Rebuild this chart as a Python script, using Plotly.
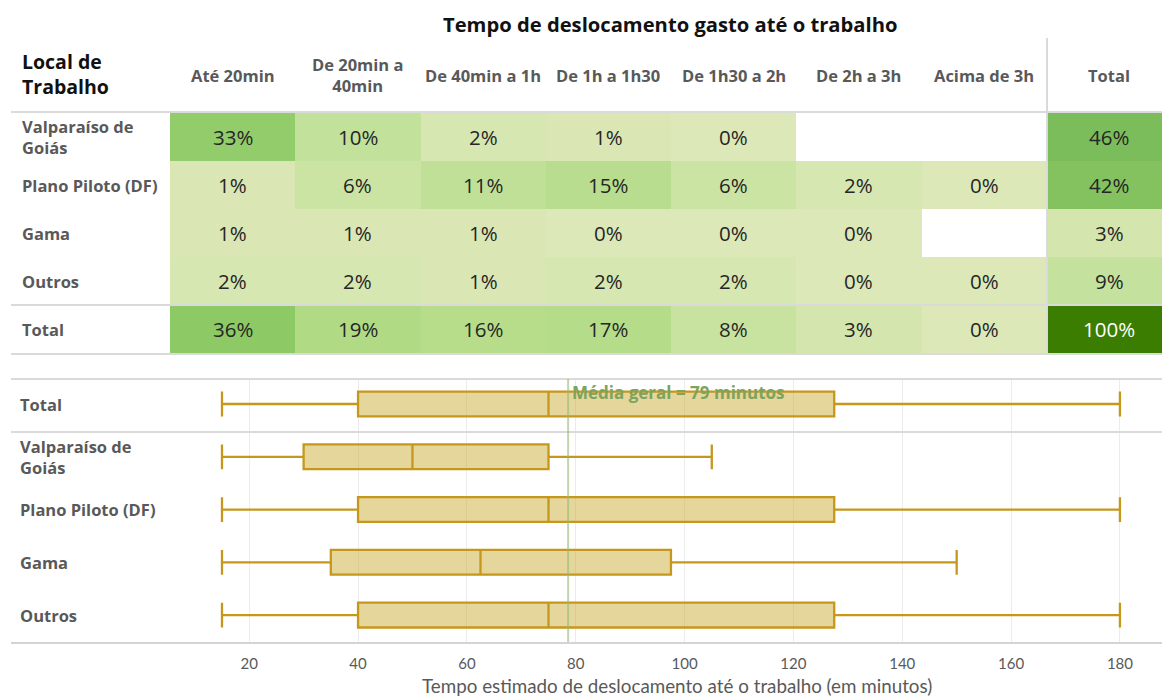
import plotly.graph_objects as go

W, H = 1162, 697

# ---------------- data ----------------
col_labels = ["Até 20min", "De 20min a<br>40min", "De 40min a 1h", "De 1h a 1h30",
              "De 1h30 a 2h", "De 2h a 3h", "Acima de 3h", "Total"]
row_labels = ["Valparaíso de<br>Goiás", "Plano Piloto (DF)", "Gama", "Outros", "Total"]

pct_valparaiso = [33, 10, 2, 1, 0, None, None, 46]
pct_plano = [1, 6, 11, 15, 6, 2, 0, 42]
pct_gama = [1, 1, 1, 0, 0, 0, None, 3]
pct_outros = [2, 2, 1, 2, 2, 0, 0, 9]
pct_total = [36, 19, 16, 17, 8, 3, 0, 100]

box_rows = ["Total", "Valparaíso de Goiás", "Plano Piloto (DF)", "Gama", "Outros"]
box_row_labels = ["Total", "Valparaíso de<br>Goiás", "Plano Piloto (DF)", "Gama", "Outros"]
lower = [15, 15, 15, 15, 15]
q1 = [40, 30, 40, 35, 40]
median = [75, 50, 75, 62.5, 75]
q3 = [127.5, 75, 127.5, 97.5, 127.5]
upper = [180, 105, 180, 150, 180]
mean_all = 78.6
x_ticks = [20, 40, 60, 80, 100, 120, 140, 160, 180]

title_text = "Tempo de deslocamento gasto até o trabalho"
corner_text = "Local de<br>Trabalho"
mean_text = "Média geral = 79 minutos"
x_title = "Tempo estimado de deslocamento até o trabalho (em minutos)"

# ---------------- helpers ----------------
def px(x):
    return x / W

def py(y):
    return 1 - y / H

FONT = "Open Sans"
AXFONT = "Lato"
GRAY = "#595959"

z = [pct_valparaiso, pct_plano, pct_gama, pct_outros, pct_total]
ncols = len(col_labels)
nrows = len(row_labels)

colorscale = [
    [0.0, "#dde8b8"], [0.03, "#d4e6ae"], [0.06, "#cbe4a4"], [0.10, "#c2e19a"],
    [0.17, "#b5dc89"], [0.20, "#afd983"], [0.35, "#8fca66"], [0.46, "#7cbd5b"],
    [1.0, "#3a7d00"],
]

fig = go.Figure()

fig.add_trace(go.Heatmap(
    z=z, x=list(range(ncols)), y=list(range(nrows)),
    colorscale=colorscale, zmin=0, zmax=100, showscale=False,
    hoverinfo="skip", xaxis="x", yaxis="y",
))

fig.add_trace(go.Box(
    y=box_rows, q1=q1, median=median, q3=q3, lowerfence=lower, upperfence=upper,
    orientation="h", boxpoints=False, width=0.47, whiskerwidth=1,
    fillcolor="rgba(198,166,38,0.46)",
    line=dict(color="rgb(197,152,28)", width=2.3),
    hoverinfo="skip", xaxis="x2", yaxis="y2", showlegend=False,
))

annotations = []
# cell texts
for r, row in enumerate(z):
    for c, v in enumerate(row):
        if v is None:
            continue
        annotations.append(dict(
            x=c, y=r, xref="x", yref="y", text=f"{v}%", showarrow=False,
            xanchor="center", yanchor="middle",
            font=dict(family=FONT, size=20.5, color="#ffffff" if v >= 70 else "#262626"),
        ))
# column headers
for c, lab in enumerate(col_labels):
    annotations.append(dict(
        x=c, y=py(75), xref="x", yref="paper", text=f"<b>{lab}</b>", showarrow=False,
        xanchor="center", yanchor="middle",
        font=dict(family=FONT, size=16.5, color=GRAY), align="center",
    ))
# heatmap row labels
for r, lab in enumerate(row_labels):
    annotations.append(dict(
        x=px(20), y=r, xref="paper", yref="y", text=f"<b>{lab}</b>", showarrow=False,
        xanchor="left", yanchor="middle", align="left",
        font=dict(family=FONT, size=16.5, color=GRAY),
    ))
# box row labels
for lab, cat in zip(box_row_labels, box_rows):
    annotations.append(dict(
        x=px(18), y=cat, xref="paper", yref="y2", text=f"<b>{lab}</b>", showarrow=False,
        xanchor="left", yanchor="middle", align="left",
        font=dict(family=FONT, size=16.5, color=GRAY),
    ))
annotations.append(dict(
    x=px(670), y=py(24), xref="paper", yref="paper", text=f"<b>{title_text}</b>",
    showarrow=False, xanchor="center", yanchor="middle",
    font=dict(family=FONT, size=20.2, color="#111111"),
))
annotations.append(dict(
    x=px(20), y=py(74), xref="paper", yref="paper", text=f"<b>{corner_text}</b>",
    showarrow=False, xanchor="left", yanchor="middle", align="left",
    font=dict(family=FONT, size=19.5, color="#111111"),
))
annotations.append(dict(
    x=mean_all, y=py(392), xref="x2", yref="paper", text=f"<b>{mean_text}</b>",
    showarrow=False, xanchor="left", yanchor="middle", xshift=2,
    font=dict(family=FONT, size=17, color="#7ea35c"),
))
annotations.append(dict(
    x=px(677), y=py(685), xref="paper", yref="paper", text=x_title,
    showarrow=False, xanchor="center", yanchor="middle",
    font=dict(family=AXFONT, size=18.8, color=GRAY),
))

LINE = "#dadada"
shapes = []
for yy in (112, 305, 354, 379, 432):
    shapes.append(dict(type="line", xref="paper", yref="paper",
                       x0=px(11), x1=1, y0=py(yy), y1=py(yy),
                       line=dict(color=LINE, width=2), layer="above"))
shapes.append(dict(type="line", xref="paper", yref="paper",
                   x0=px(1047), x1=px(1047), y0=py(38), y1=py(354),
                   line=dict(color=LINE, width=2), layer="above"))
shapes.append(dict(type="line", xref="x2", yref="paper",
                   x0=mean_all, x1=mean_all, y0=py(642), y1=py(379),
                   line=dict(color="rgba(150,185,120,0.6)", width=2), layer="above"))

fig.update_layout(
    width=W, height=H, margin=dict(l=0, r=0, t=0, b=0),
    paper_bgcolor="white", plot_bgcolor="white", showlegend=False,
    font=dict(family=FONT),
    xaxis=dict(domain=[px(170), 1], range=[-0.5, 7.42], visible=False, fixedrange=True),
    yaxis=dict(domain=[py(353), py(113)], range=[4.5, -0.5], visible=False, fixedrange=True),
    xaxis2=dict(domain=[px(11), 1], range=[-23.77, 187.73], anchor="y2",
                tickvals=x_ticks, showgrid=True, gridcolor="#ececec", gridwidth=1,
                zeroline=False, showline=True, linecolor="#d4d4d4", linewidth=2,
                ticks="", ticklabelstandoff=7,
                tickfont=dict(family=AXFONT, size=15, color=GRAY)),
    yaxis2=dict(domain=[py(642), py(379)], type="category", categoryorder="array",
                categoryarray=box_rows, range=[4.51, -0.474], anchor="x2",
                showticklabels=False, showgrid=False, zeroline=False, ticks=""),
    annotations=annotations, shapes=shapes,
)

fig.write_html("out.html", config={"displayModeBar": False},
               post_script="document.body.style.margin='0';")
